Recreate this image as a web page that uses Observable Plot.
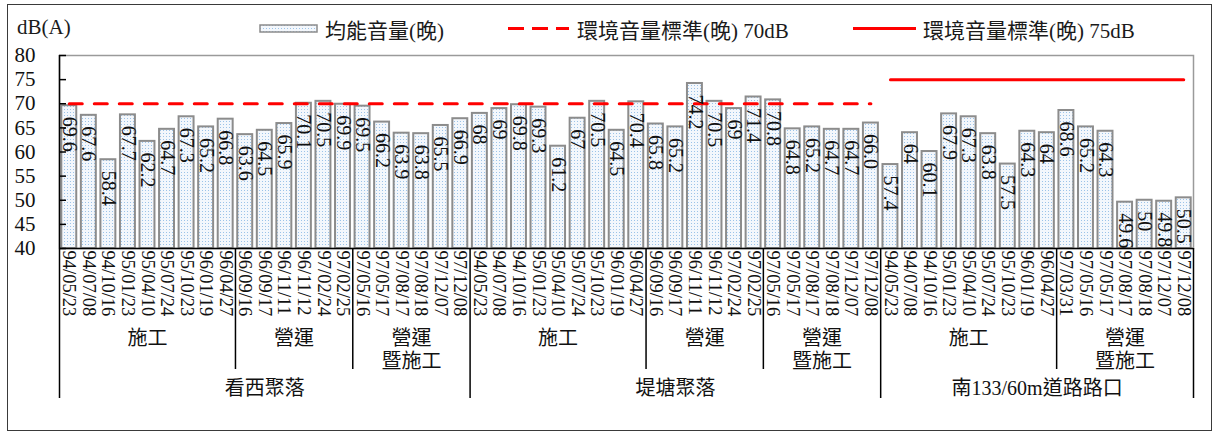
<!DOCTYPE html>
<html><head><meta charset="utf-8">
<script src="https://cdn.jsdelivr.net/npm/d3@7"></script>
<script src="https://cdn.jsdelivr.net/npm/@observablehq/plot@0.6"></script>
<style>
body{margin:0;background:#fff;width:1214px;height:432px;position:relative;overflow:hidden;font-family:"Liberation Serif","Noto Sans CJK TC",serif;color:#1a1a1a}
#frame{position:absolute;left:7px;top:4px;width:1203px;height:425px;border:1.5px solid #3a3a3a;pointer-events:none;z-index:2}
#ylab{position:absolute;left:17px;top:14px;font-size:21px;line-height:26px}
.legtext{position:absolute;top:18px;font-size:21px;line-height:26px;white-space:nowrap}
.legsym{position:absolute}
#chart{position:absolute;left:0;top:42px}
</style></head><body>
<div id="frame"></div>
<div id="ylab">dB(A)</div>
<svg class="legsym" style="left:259px;top:24px" width="60" height="10">
  <defs><pattern id="legDots" width="3" height="3" patternUnits="userSpaceOnUse"><rect width="3" height="3" fill="#f3f7fc"/><rect x="1" y="1" width="1" height="1" fill="#9cc3e8"/></pattern></defs>
  <rect x="1" y="1" width="57" height="7" fill="url(#legDots)" stroke="#8c8c8c" stroke-width="1.5"/>
</svg>
<div class="legtext" id="leg1" style="left:325px"></div>
<svg class="legsym" style="left:508px;top:26px" width="62" height="5"><line x1="0" x2="61" y1="2.5" y2="2.5" stroke="red" stroke-width="3.2" stroke-dasharray="16,8"/></svg>
<div class="legtext" id="leg2" style="left:577px"></div>
<svg class="legsym" style="left:853px;top:26px" width="64" height="5"><line x1="0" x2="63" y1="2.5" y2="2.5" stroke="red" stroke-width="3.2"/></svg>
<div class="legtext" id="leg3" style="left:923px"></div>
<div id="chart"></div>
<script>
// ---- data ----
const siteNames = ["看西聚落", "堤塘聚落", "南133/60m道路路口"];
const seriesNames = ["均能音量(晚)", "環境音量標準(晚) 70dB", "環境音量標準(晚) 75dB"];
const standardLevels = [70, 75];           // dashed, solid
const siteStandards = [70, 70, 75];
const yTicks = [40, 45, 50, 55, 60, 65, 70, 75, 80];

const dates1 = ["94/05/23","94/07/08","94/10/16","95/01/23","95/04/10","95/07/24","95/10/23","96/01/19","96/04/27","96/09/16","96/09/17","96/11/11","96/11/12","97/02/24","97/02/25","97/05/16","97/05/17","97/08/17","97/08/18","97/12/07","97/12/08"];
const values1 = ["69.6","67.6","58.4","67.7","62.2","64.7","67.3","65.2","66.8","63.6","64.5","65.9","70.1","70.5","69.9","69.5","66.2","63.9","63.8","65.5","66.9"];
const phases1 = [["施工", 9], ["營運", 6], ["營運\n暨施工", 6]];

const dates2 = ["94/05/23","94/07/08","94/10/16","95/01/23","95/04/10","95/07/24","95/10/23","96/01/19","96/04/27","96/09/16","96/09/17","96/11/11","96/11/12","97/02/24","97/02/25","97/05/16","97/05/17","97/08/17","97/08/18","97/12/07","97/12/08"];
const values2 = ["68","69","69.8","69.3","61.2","67","70.5","64.5","70.4","65.8","65.2","74.2","70.5","69","71.4","70.8","64.8","65.2","64.7","64.7","66.0"];
const phases2 = [["施工", 9], ["營運", 6], ["營運\n暨施工", 6]];

const dates3 = ["94/05/23","94/07/08","94/10/16","95/01/23","95/04/10","95/07/24","95/10/23","96/01/19","96/04/27","97/03/31","97/05/16","97/05/17","97/08/17","97/08/18","97/12/07","97/12/08"];
const values3 = ["57.4","64","60.1","67.9","67.3","63.8","57.5","64.3","64","68.6","65.2","64.3","49.6","50","49.8","50.5"];
const phases3 = [["施工", 9], ["營運\n暨施工", 7]];

// ---- build tables ----
const sites = [
  {dates: dates1, values: values1, phases: phases1},
  {dates: dates2, values: values2, phases: phases2},
  {dates: dates3, values: values3, phases: phases3}
];
const bars = [], phaseSpans = [], siteSpans = [];
let idx = 0;
sites.forEach((s, k) => {
  const start = idx;
  let p = idx;
  s.phases.forEach(([label, n]) => { phaseSpans.push({label, start: p, end: p + n}); p += n; });
  s.dates.forEach((d, j) => bars.push({i: idx + j, date: d, text: s.values[j], value: +s.values[j], std: siteStandards[k]}));
  idx += s.dates.length;
  siteSpans.push({label: siteNames[k], start, end: idx});
});
const nBars = idx;
const siteBounds = [0, ...siteSpans.map(s => s.end)];
const phaseBounds = phaseSpans.map(p => p.start).filter(b => !siteBounds.includes(b));

document.getElementById("leg1").textContent = seriesNames[0];
document.getElementById("leg2").textContent = seriesNames[1];
document.getElementById("leg3").textContent = seriesNames[2];

// ---- layout ----
const W = 1214, H = 386, mT = 13, mB = 180, mL = 59, mR = 21;
const frameH = H - mT - mB;
const phaseLineLen = 121, siteLineLen = 150;
const FONT = '"Liberation Serif","Noto Sans CJK TC",serif';

const chart = Plot.plot({
  width: W, height: H, marginTop: mT, marginBottom: mB, marginLeft: mL, marginRight: mR,
  style: {fontFamily: FONT, color: "#1a1a1a", background: "transparent", overflow: "visible"},
  x: {domain: [0, nBars], label: null},
  y: {domain: [yTicks[0], yTicks[yTicks.length - 1]], label: null},
  marks: [
    Plot.frame({stroke: "#9a9a9a", strokeWidth: 1.5}),
    Plot.rectY(bars, {x1: "i", x2: d => d.i + 1, y1: yTicks[0], y2: "value", insetLeft: 2.3, insetRight: 2.3,
      fill: "url(#barDots)", stroke: "#8c8c8c", strokeWidth: 2}),
    Plot.lineY(bars.filter(d => d.std === standardLevels[0]), {x: d => d.i + 0.5, y: "std", stroke: "red", strokeWidth: 3, strokeDasharray: "13,12"}),
    Plot.lineY(bars.filter(d => d.std === standardLevels[1]), {x: d => d.i + 0.5, y: "std", stroke: "red", strokeWidth: 3}),
    Plot.text(bars, {x: d => d.i + 0.5, y: "value", text: "text", rotate: 90, textAnchor: "start", lineAnchor: "middle",
      dy: 11, fontSize: 20, fill: "#111"}),
    Plot.ruleY([yTicks[0]], {stroke: "black", strokeWidth: 1.5}),
    Plot.ruleX([0], {stroke: "black", strokeWidth: 1.5}),
    Plot.axisY({ticks: yTicks, tickSize: -7, tickPadding: 31, fontSize: 21, stroke: "black", strokeWidth: 1.5, fill: "#111"}),
    Plot.axisX({ticks: bars.map(d => d.i + 0.5), tickFormat: t => bars[Math.floor(t)].date, tickSize: 0, tickRotate: 90,
      tickPadding: 2, fontSize: 18.5, fill: "#111"}),
    Plot.ruleX(phaseBounds, {stroke: "black", strokeWidth: 1.5, insetTop: frameH - phaseLineLen, dy: phaseLineLen}),
    Plot.ruleX(siteBounds, {stroke: "black", strokeWidth: 1.5, insetTop: frameH - siteLineLen, dy: siteLineLen}),
    Plot.text(phaseSpans, {x: d => (d.start + d.end) / 2, text: "label", frameAnchor: "bottom", lineAnchor: "top",
      dy: 80, fontSize: 20, lineHeight: 1.15, fill: "#111"}),
    Plot.text(siteSpans, {x: d => (d.start + d.end) / 2, text: "label", frameAnchor: "bottom", lineAnchor: "middle",
      dy: 140, fontSize: 20, fill: "#111"})
  ]
});

const defs = d3.select(chart).insert("defs", ":first-child");
const pat = defs.append("pattern").attr("id", "barDots").attr("width", 3).attr("height", 3).attr("patternUnits", "userSpaceOnUse");
pat.append("rect").attr("width", 3).attr("height", 3).attr("fill", "#f3f7fc");
pat.append("rect").attr("x", 1).attr("y", 1).attr("width", 1).attr("height", 1).attr("fill", "#9cc3e8");

document.getElementById("chart").appendChild(chart);
</script>
</body></html>
